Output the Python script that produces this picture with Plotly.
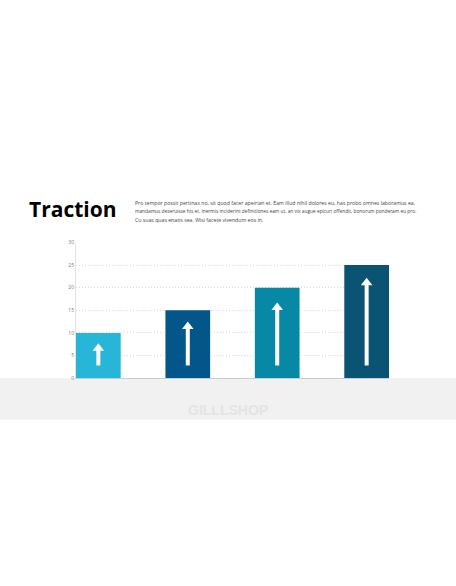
import plotly.graph_objects as go

# chart data
categories = ["A", "B", "C", "D"]
values = [10, 15, 20, 25]
bar_colors = ["#27b5d8", "#02568a", "#0789a6", "#0b5373"]
arrow_base = [2.8, 2.8, 2.8, 2.8]
arrow_head = [6.6, 11.4, 15.6, 21.1]
y_ticks = [0, 5, 10, 15, 20, 25, 30]

title_text = "Traction"
body_lines = [
    "Pro tempor possit pertinax no, sit quod facer apeirian et. Eam illud nihil dolores eu, has probo omnes laboramus ea,",
    "mandamus deseruisse his et. Inermis inciderint definitiones eam ut, an vix augue epicuri offendit, bonorum ponderam eu pro.",
    "Cu suas quas enatis sea. Wisi facete vivendum eos in.",
]
# the paragraph is justified in the original, so lines get their own size
body_sizes = [5.2, 4.8, 5.2]
watermark = "GILLLSHOP"

W, H = 456, 586


def py(px_from_top):
    # pixel row -> paper y
    return (H - px_from_top) / H


fig = go.Figure()

fig.add_trace(go.Bar(
    x=categories, y=values,
    marker=dict(color=bar_colors, line=dict(width=0)),
    width=0.5, hoverinfo="skip", showlegend=False,
))

# white arrows inside the bars: shaft + head
shaft_x, shaft_y = [], []
for c, b, t in zip(categories, arrow_base, arrow_head):
    shaft_x += [c, c, None]
    shaft_y += [b, t, None]
fig.add_trace(go.Scatter(
    x=shaft_x, y=shaft_y, mode="lines",
    line=dict(color="white", width=4),
    hoverinfo="skip", showlegend=False,
))
fig.add_trace(go.Scatter(
    x=categories, y=arrow_head, mode="markers",
    marker=dict(symbol="triangle-up", size=10, color="white", line=dict(width=0)),
    hoverinfo="skip", showlegend=False,
))

# gray band under the chart
fig.add_shape(type="rect", xref="paper", yref="paper",
              x0=0, x1=1, y0=py(421), y1=py(379),
              fillcolor="#f1f1f1", line=dict(width=0), layer="below")

fig.add_annotation(text=watermark, xref="paper", yref="paper",
                   x=0.5, y=py(411), xanchor="center", yanchor="middle",
                   showarrow=False,
                   font=dict(family="Liberation Sans", size=14, color="#e4e4e4", weight="bold"))

fig.add_annotation(text=title_text, xref="paper", yref="paper",
                   x=27 / W, y=py(208), xanchor="left", yanchor="middle",
                   showarrow=False,
                   font=dict(family="Open Sans", size=21, color="#000000", weight="bold"))

for i, (line, size) in enumerate(zip(body_lines, body_sizes)):
    fig.add_annotation(text=line, xref="paper", yref="paper",
                       x=133 / W, y=py(202 + i * 8.5), xanchor="left", yanchor="middle",
                       showarrow=False,
                       font=dict(family="Open Sans", size=size, color="#444444"))

fig.update_layout(
    width=W, height=H,
    margin=dict(l=0, r=0, t=0, b=0),
    paper_bgcolor="white", plot_bgcolor="white",
    bargap=0.5,
    xaxis=dict(
        domain=[76 / W, 389 / W], range=[-0.25, 3.25],
        showticklabels=False, showgrid=False, zeroline=False,
        showline=True, linecolor="#c5d0d5", linewidth=1, ticks="",
    ),
    yaxis=dict(
        domain=[py(379), py(242)], range=[0, 30],
        tickvals=y_ticks, ticks="",
        tickfont=dict(family="Open Sans", size=5, color="#777777"),
        showgrid=True, gridcolor="#d8d8d8", griddash="1px,2px", gridwidth=1,
        zeroline=False, showline=True, linecolor="#e3e3e3", linewidth=1,
    ),
)

# page has default 8px body margin; drop it so the figure sits at 0,0
fig.write_html("out.html", config={"displayModeBar": False},
               post_script="document.body.style.margin='0';document.body.style.overflow='hidden';")
